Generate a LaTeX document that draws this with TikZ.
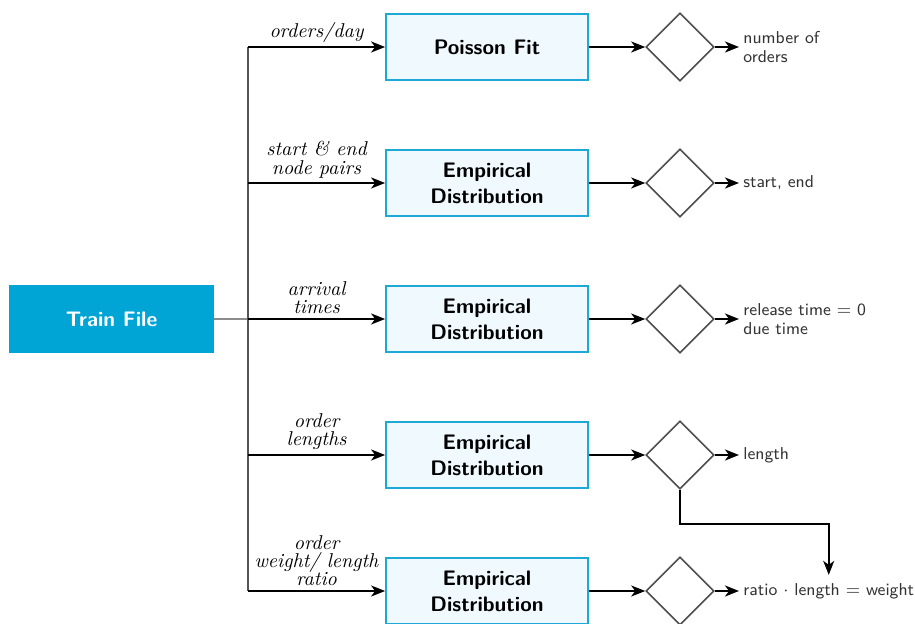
\documentclass[tikz,border=0pt]{standalone}
\usetikzlibrary{arrows.meta,shapes.geometric}
\definecolor{srcblue}{RGB}{0,165,214}
\definecolor{boxblue}{RGB}{30,168,214}
\definecolor{boxfill}{RGB}{240,249,253}
\definecolor{dgray}{RGB}{77,77,77}
\definecolor{tgray}{RGB}{51,51,51}
\definecolor{trunkgray}{RGB}{85,85,85}
\definecolor{stubgray}{RGB}{140,140,140}
\begin{document}
\begin{tikzpicture}[x=0.5pt,y=-0.5pt,
  srcbox/.style={fill=srcblue, text=white, font=\sffamily\bfseries\fontsize{10.5}{13}\selectfont,
    minimum width=102.5pt, minimum height=34pt, inner sep=0pt},
  distbox/.style={draw=boxblue, fill=boxfill, line width=0.9pt, align=center,
    font=\sffamily\bfseries\fontsize{10.5}{13}\selectfont,
    minimum width=101pt, minimum height=33pt, inner sep=0pt},
  choice/.style={diamond, draw=dgray, line width=0.8pt, aspect=1,
    minimum width=34pt, minimum height=34pt, inner sep=0pt},
  result/.style={font=\sffamily\fontsize{8.6}{9.2}\selectfont, text=tgray, align=left,
    anchor=west, inner sep=2pt},
  flow/.style={line width=0.9pt, -{Stealth[length=7pt,width=5.5pt,inset=2pt]}},
  tag/.style={font=\itshape\fontsize{10}{9.2}\selectfont, align=center, above, inner sep=2pt}
]
\useasboundingbox (0,0) rectangle (915,624);

% source
\node[srcbox] (train) at (111.5,319) {Train File};

% branch points on the trunk
\coordinate (b1) at (248,47);
\coordinate (b2) at (248,183);
\coordinate (b3) at (248,319);
\coordinate (b4) at (248,455);
\coordinate (b5) at (248,591);

% fitting stages
\node[distbox] (f1) at (487,47)  {Poisson Fit};
\node[distbox] (f2) at (487,183) {Empirical\\Distribution};
\node[distbox] (f3) at (487,319) {Empirical\\Distribution};
\node[distbox] (f4) at (487,455) {Empirical\\Distribution};
\node[distbox] (f5) at (487,591) {Empirical\\Distribution};

% sampling decisions
\node[choice] (d1) at (680,47)  {};
\node[choice] (d2) at (680,183) {};
\node[choice] (d3) at (680,319) {};
\node[choice] (d4) at (680,455) {};
\node[choice] (d5) at (680,591) {};

% generated quantities
\node[result] (r1) at (739,47)  {number of\\orders};
\node[result] (r2) at (739,183) {start, end};
\node[result] (r3) at (739,319) {release time $=$ 0\\due time};
\node[result] (r4) at (739,455) {length};
\node[result] (r5) at (739,591) {ratio $\cdot$ length $=$ weight};

% trunk
\draw[stubgray, line width=0.9pt] (train.east) -- (b3);
\draw[trunkgray, line width=0.9pt] (b1) -- (b5);

% branches into the fitting stages
\draw[flow] (b1) -- node[tag] {orders/day} (f1);
\draw[flow] (b2) -- node[tag] {start \& end\\node pairs} (f2);
\draw[flow] (b3) -- node[tag] {arrival\\times} (f3);
\draw[flow] (b4) -- node[tag] {order\\lengths} (f4);
\draw[flow] (b5) -- node[tag] {order\\weight/ length\\ratio} (f5);

% stages to decisions to results
\foreach \i in {1,...,5} {
  \draw[flow] (f\i) -- (d\i);
  \draw[flow] (d\i) -- (r\i);
}

% length feeds the weight computation
\coordinate (bend) at (680,524);
\draw[flow] (d4.south) -- (bend) -| ([yshift=2pt]r5.north);
\end{tikzpicture}
\end{document}
